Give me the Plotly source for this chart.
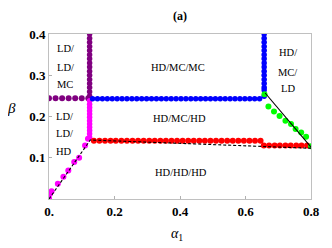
import plotly.graph_objects as go

# ---- data ----
purple_h_alpha = [0.0, 0.02, 0.04, 0.06, 0.08, 0.10, 0.12]
purple_h_beta = [0.244] * 7
purple_v_beta = [0.25, 0.26, 0.27, 0.28, 0.29, 0.30, 0.31, 0.32, 0.33, 0.34,
                 0.35, 0.36, 0.37, 0.38, 0.39, 0.40]
purple_v_alpha = [0.124] * len(purple_v_beta)

magenta_diag_alpha = [0.0, 0.003, 0.008, 0.027, 0.044, 0.059, 0.077, 0.092, 0.110, 0.119]
magenta_diag_beta = [0.002, 0.013, 0.019, 0.037, 0.054, 0.069, 0.090, 0.100, 0.130, 0.146]
magenta_v_beta = [0.150, 0.158, 0.166, 0.174, 0.182, 0.190, 0.198, 0.206, 0.214,
                  0.222, 0.230, 0.238]
magenta_v_alpha = [0.124] * len(magenta_v_beta)

blue_h_alpha = [0.133, 0.148, 0.163, 0.178, 0.193, 0.208, 0.223, 0.238, 0.253, 0.268,
                0.283, 0.298, 0.313, 0.328, 0.343, 0.358, 0.373, 0.388, 0.403, 0.418,
                0.433, 0.448, 0.463, 0.478, 0.493, 0.508, 0.523, 0.538, 0.553, 0.568,
                0.583, 0.598, 0.613, 0.628, 0.643]
blue_h_beta = [0.243] * len(blue_h_alpha)
blue_v_beta = [0.249, 0.264, 0.27, 0.28, 0.29, 0.30, 0.31, 0.32, 0.33, 0.34, 0.35,
               0.36, 0.37, 0.38, 0.39, 0.40]
blue_v_alpha = [0.657] * len(blue_v_beta)

red_hi_alpha = [0.137, 0.154, 0.171, 0.188, 0.204, 0.221, 0.238, 0.255, 0.272, 0.289,
                0.306, 0.323, 0.340, 0.357, 0.374, 0.391, 0.408, 0.425, 0.442, 0.459,
                0.476, 0.493, 0.510, 0.527, 0.544, 0.561, 0.578, 0.595, 0.612, 0.629,
                0.646]
red_hi_beta = [0.141] * len(red_hi_alpha)
red_lo_alpha = [0.656, 0.672, 0.689, 0.705, 0.722, 0.738, 0.755, 0.771, 0.788]
red_lo_beta = [0.130] * len(red_lo_alpha)

green_alpha = [0.658, 0.670, 0.687, 0.704, 0.722, 0.739, 0.753, 0.770, 0.785, 0.800]
green_beta = [0.254, 0.224, 0.212, 0.201, 0.190, 0.182, 0.170, 0.161, 0.151, 0.128]

dash_alpha = [0.0, 0.126, 0.80]
dash_beta = [0.0, 0.143, 0.123]
solid_alpha = [0.660, 0.803]
solid_beta = [0.257, 0.123]

x_ticks = [0.0, 0.2, 0.4, 0.6, 0.8]
x_ticktext = ["0.", "0.2", "0.4", "0.6", "0.8"]
y_ticks = [0.1, 0.2, 0.3, 0.4]
y_ticktext = ["0.1", "0.2", "0.3", "0.4"]

region_labels = [
    ("LD/", 0.049, 0.365), ("LD/", 0.049, 0.319), ("MC", 0.049, 0.278),
    ("LD/", 0.047, 0.201), ("LD/", 0.047, 0.160), ("HD", 0.047, 0.115),
    ("HD/MC/MC", 0.394, 0.319),
    ("HD/MC/HD", 0.397, 0.194),
    ("HD/HD/HD", 0.403, 0.064),
    ("HD/", 0.729, 0.356), ("MC/", 0.729, 0.306), ("LD", 0.729, 0.268),
]

SERIF = "Liberation Serif"

fig = go.Figure()

def dots(x, y, color, size=6):
    fig.add_trace(go.Scatter(x=x, y=y, mode="markers",
                             marker=dict(color=color, size=size, line=dict(width=0)),
                             showlegend=False, hoverinfo="skip"))

dots(purple_h_alpha, purple_h_beta, "#800080")
dots(purple_v_alpha, purple_v_beta, "#800080", 5.5)
dots(magenta_diag_alpha, magenta_diag_beta, "#ff00ff")
dots(magenta_v_alpha, magenta_v_beta, "#ff00ff", 5.5)
dots(blue_h_alpha, blue_h_beta, "#0000ff", 5.5)
dots(blue_v_alpha, blue_v_beta, "#0000ff", 5.5)
dots(red_hi_alpha, red_hi_beta, "#ff0000")
dots(red_lo_alpha, red_lo_beta, "#ff0000")
dots(green_alpha, green_beta, "#00ff00")

fig.add_trace(go.Scatter(x=dash_alpha, y=dash_beta, mode="lines",
                         line=dict(color="black", width=1.1, dash="3px,2px"),
                         showlegend=False, hoverinfo="skip"))
fig.add_trace(go.Scatter(x=solid_alpha, y=solid_beta, mode="lines",
                         line=dict(color="black", width=1.1),
                         showlegend=False, hoverinfo="skip"))

for text, ax, ay in region_labels:
    fig.add_annotation(x=ax, y=ay, text=text, showarrow=False,
                       xanchor="center", yanchor="middle",
                       font=dict(family=SERIF, size=10.5, color="black"))

paper_text = dict(xref="paper", yref="paper", showarrow=False,
                  xanchor="center", yanchor="middle")
fig.add_annotation(x=0.50, y=1.112, text="<b>(a)</b>",
                   font=dict(family=SERIF, size=12, color="black"), **paper_text)
fig.add_annotation(x=-0.144, y=0.553, text="<i>β</i>",
                   font=dict(family=SERIF, size=15, color="black"), **paper_text)
fig.add_annotation(x=0.49, y=-0.215, text="<i>α</i><sub>1</sub>",
                   font=dict(family=SERIF, size=14, color="black"), **paper_text)

axis_common = dict(showgrid=False, zeroline=False, showline=True, mirror=True,
                   linecolor="#c0c0c0", linewidth=1, ticks="inside", ticklen=3,
                   tickcolor="#b0b0b0",
                   tickfont=dict(family=SERIF, size=13, color="black", weight="bold"))

fig.update_xaxes(range=[0, 0.8], tickvals=x_ticks, ticktext=x_ticktext, **axis_common)
fig.update_yaxes(range=[0, 0.4], tickvals=y_ticks, ticktext=y_ticktext, **axis_common)

# the page body adds an 8px offset, so the figure is sized to fill the rest of the window
fig.update_layout(width=324, height=240,
                  margin=dict(l=41, r=12, t=26, b=48.5),
                  paper_bgcolor="white", plot_bgcolor="white",
                  showlegend=False)

fig.write_html("out.html")
